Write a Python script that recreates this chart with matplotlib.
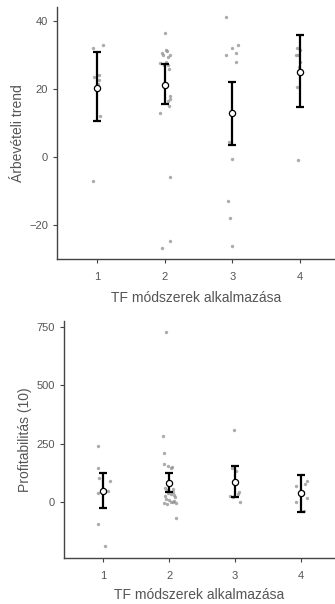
import numpy as np
import matplotlib
matplotlib.use("Agg")
from matplotlib import pyplot as plt

plt.rcParams['font.family'] = ['Liberation Sans', 'DejaVu Sans']

groups = [1, 2, 3, 4]

# Árbevételi trend - individual points per group
rev_pts = [
    [32, 33, 23.5, 24, 22.5, 21.5, 12, -7],
    [36.5, 31.5, 31, 30.5, 30, 30, 29.5, 28, 27.5, 27, 27, 26, 18, 17, 16.5, 15, 13, -5.8, -24.8, -26.7],
    [41, 32, 33, 30.5, 30, 28, 4.5, 13, -0.5, -13, -18, -26],
    [32, 31.5, 30, 30, 28, 26.5, 20.5, -1],
]
rev_jit = [
    [-0.06, 0.08, -0.05, 0.02, 0.03, 0.01, 0.04, -0.07],
    [0.0, 0.01, 0.03, -0.05, 0.07, -0.03, 0.05, 0.02, -0.07, 0.04, -0.02, 0.06, 0.08, 0.07, 0.05, 0.06, -0.07, 0.08, 0.08, -0.04],
    [-0.09, 0.0, 0.08, 0.06, -0.09, 0.06, -0.05, 0.03, 0.0, -0.06, -0.03, 0.0],
    [-0.05, 0.0, -0.06, -0.03, 0.0, -0.02, -0.05, -0.03],
]
rev_mean = [20.4, 21.2, 12.8, 25.0]
rev_lo = [10.5, 15.7, 3.6, 14.8]
rev_hi = [30.8, 27.2, 22.0, 35.8]

# Profitabilitás (10)
prof_pts = [
    [240, 147, 104, 91, 40, 47, -96, -189],
    [730, 283, 209, 165, 155, 150, 145, 60, 55, 50, 45, 40, 35, 30, 25, 20, 15, 10, 5, 0, -5, -10, 0, -5, -67],
    [309, 148, 135, 42, 28, 20, 1, 35],
    [69, 90, 77, 1, 18, -37, 44],
]
prof_jit = [
    [-0.09, -0.09, -0.07, 0.1, -0.09, 0.07, -0.08, 0.03],
    [-0.05, -0.1, -0.08, -0.08, -0.02, 0.04, 0.03, -0.06, 0.06, -0.04, 0.05, -0.02, 0.02, 0.08, -0.07, 0.09, -0.05, 0.0, 0.07, 0.03, 0.1, -0.03, 0.06, -0.08, 0.1],
    [-0.02, -0.04, 0.02, 0.06, -0.07, -0.03, 0.08, 0.05],
    [-0.08, 0.09, 0.06, -0.08, 0.09, 0.05, 0.03],
]
prof_mean = [47, 83, 87, 37]
prof_lo = [-27, 44, 20, -43]
prof_hi = [123, 126, 156, 116]

txt = '#555555'


def panel(ax, pts, jit, mean, lo, hi, ylab, yticks, ylim, xpad):
    for g, p, j in zip(groups, pts, jit):
        ax.scatter(np.array(j) + g, p, s=6, color='#909090', alpha=0.75, linewidths=0, zorder=2)
    m = np.array(mean)
    err = [m - np.array(lo), np.array(hi) - m]
    ax.errorbar(groups, m, yerr=err, fmt='none', ecolor='black', elinewidth=1.6,
                capsize=2.6, capthick=1.6, zorder=3)
    ax.scatter(groups, m, s=20, facecolor='white', edgecolor='black', linewidths=0.9, zorder=4)
    ax.set_xlim(0.4, 4.52)
    ax.set_ylim(*ylim)
    ax.set_xticks(groups)
    ax.set_yticks(yticks)
    for s in ['top', 'right']:
        ax.spines[s].set_visible(False)
    for s in ['left', 'bottom']:
        ax.spines[s].set_color('#444444')
        ax.spines[s].set_linewidth(1.0)
    ax.tick_params(colors='#444444', labelcolor=txt, labelsize=8, length=3, width=0.8)
    ax.tick_params(axis='x', pad=6)
    ax.set_xlabel('TF módszerek alkalmazása', color=txt, fontsize=10, labelpad=xpad)
    ax.set_ylabel(ylab, color=txt, fontsize=10, labelpad=3)


fig = plt.figure(figsize=(3.35, 6.04), dpi=100)
ax1 = fig.add_axes([0.170, 0.571, 0.83, 0.417])
panel(ax1, rev_pts, rev_jit, rev_mean, rev_lo, rev_hi, 'Árbevételi trend',
      [-20, 0, 20, 40], (-30, 44), 7)
ax2 = fig.add_axes([0.191, 0.076, 0.809, 0.393])
panel(ax2, prof_pts, prof_jit, prof_mean, prof_lo, prof_hi, 'Profitabilitás (10)',
      [0, 250, 500, 750], (-240, 777), 5)
fig.savefig('out.png', dpi=100)
